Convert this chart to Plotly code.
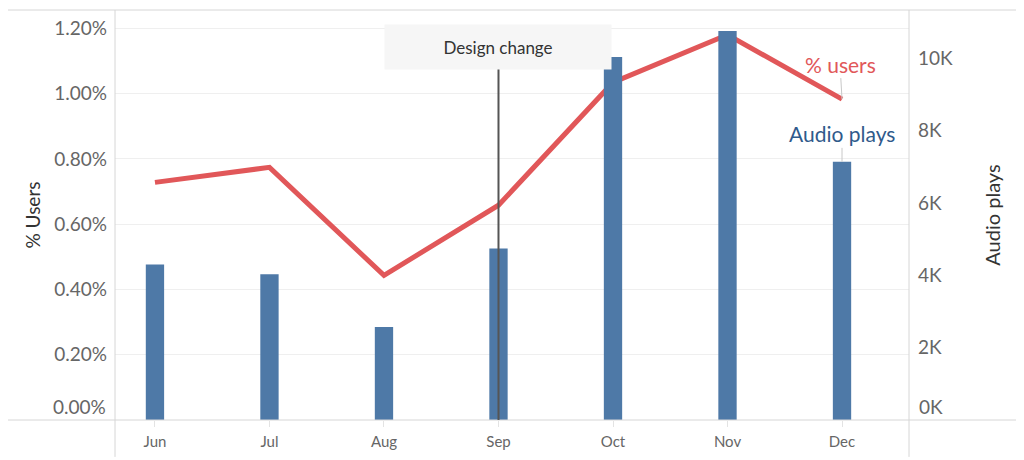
import plotly.graph_objects as go

# === Data ===
months = ["Jun", "Jul", "Aug", "Sep", "Oct", "Nov", "Dec"]
pct_users = [0.728, 0.774, 0.443, 0.658, 1.034, 1.18, 0.983]  # percent
audio_plays = [4300, 4030, 2570, 4740, 10040, 10760, 7140]

left_ticks = [0.2, 0.4, 0.6, 0.8, 1.0, 1.2]
left_labels = ["0.20%", "0.40%", "0.60%", "0.80%", "1.00%", "1.20%"]
right_ticks = [2000, 4000, 6000, 8000, 10000]
right_labels = ["2K", "4K", "6K", "8K", "10K"]

event_month = "Sep"
event_label = "Design change"

RED = "#e15759"
BLUE = "#4e79a7"
TEXT_BLUE = "#2f5a8b"
GRID = "#efefef"
BORDER = "#d6d6d6"
FONT = "Lato"

fig = go.Figure()

# % users line (base axis, drawn under the bars)
fig.add_trace(go.Scatter(
    x=months, y=pct_users,
    mode="lines",
    line=dict(color=RED, width=5),
    name="% users",
    yaxis="y"
))

# Audio plays bars on the right axis
fig.add_trace(go.Bar(
    x=months, y=audio_plays,
    marker=dict(color=BLUE, line=dict(width=0)),
    width=0.16,
    name="Audio plays",
    yaxis="y2"
))

# === Layout ===
# page has an 8px body margin, so the figure is 8px smaller than the window
fig.update_layout(
    width=1016, height=452,
    margin=dict(l=107, r=115, t=2, b=40),
    plot_bgcolor="white",
    paper_bgcolor="white",
    showlegend=False,
    font=dict(family=FONT, color="#666666"),
    xaxis=dict(
        type="category",
        range=[-0.349, 6.585],
        showgrid=False, zeroline=False, showline=False,
        ticks="outside", ticklen=6, tickcolor="#e3e3e3", tickwidth=1,
        tickfont=dict(size=15, color="#666666"),
        ticklabelstandoff=2,
    ),
    yaxis=dict(
        range=[0, 1.256],
        tickvals=left_ticks, ticktext=left_labels,
        showgrid=True, gridcolor=GRID, gridwidth=1,
        zeroline=False, showline=False, ticks="",
        tickfont=dict(size=19, color="#666666"),
        ticklabelstandoff=7,
        title=dict(text="% Users", font=dict(size=19, color="#333333"), standoff=8),
    ),
    yaxis2=dict(
        range=[0, 11340],
        overlaying="y", side="right",
        tickvals=right_ticks, ticktext=right_labels,
        showgrid=False, zeroline=False, showline=False, ticks="",
        tickfont=dict(size=19, color="#666666"),
        ticklabelstandoff=8,
        title=dict(text="Audio plays", font=dict(size=20, color="#333333"), standoff=33),
    ),
)

# Frame lines (Tableau style)
frame = dict(color=BORDER, width=1)
fig.add_shape(type="line", xref="paper", yref="paper", x0=-0.135, x1=1.15, y0=1, y1=1, line=frame)
fig.add_shape(type="line", xref="paper", yref="paper", x0=-0.135, x1=1.15, y0=0, y1=0, line=frame)
fig.add_shape(type="line", xref="paper", yref="paper", x0=0, x1=0, y0=-0.09, y1=1, line=frame)
fig.add_shape(type="line", xref="paper", yref="paper", x0=1, x1=1, y0=-0.09, y1=1, line=frame)

# Zero labels sit just above the axis line
fig.add_annotation(x=0, xref="paper", xanchor="right", xshift=-7,
                   y=0, yref="y", yanchor="bottom", yshift=0,
                   text="0.00%", showarrow=False,
                   font=dict(size=19, color="#666666"))
fig.add_annotation(x=1, xref="paper", xanchor="left", xshift=8,
                   y=0, yref="y2", yanchor="bottom", yshift=0,
                   text="0K", showarrow=False,
                   font=dict(size=19, color="#666666"))

# Design change reference line + label box
fig.add_shape(type="line", xref="x", yref="paper", x0=event_month, x1=event_month,
              y0=0, y1=0.8585, line=dict(color="#555555", width=2))
fig.add_annotation(x=event_month, xref="x", y=0.91, yref="paper",
                   xanchor="center", yanchor="middle",
                   text=event_label, showarrow=False,
                   bgcolor="#f6f6f6", width=224, height=42,
                   font=dict(size=17, color="#333333"))

# Series labels
fig.add_annotation(x=months[-1], y=pct_users[-1], xref="x", yref="y",
                   text="% users", showarrow=True, arrowhead=0,
                   arrowcolor="#c8c8c8", arrowwidth=1, ax=-2, ay=-35,
                   font=dict(size=21, color=RED))
fig.add_annotation(x=months[-1], y=audio_plays[-1], xref="x", yref="y2",
                   text="Audio plays", showarrow=True, arrowhead=0,
                   arrowcolor="#c8c8c8", arrowwidth=1, ax=0, ay=-28,
                   font=dict(size=21, color=TEXT_BLUE))

fig.write_html("out.html")
